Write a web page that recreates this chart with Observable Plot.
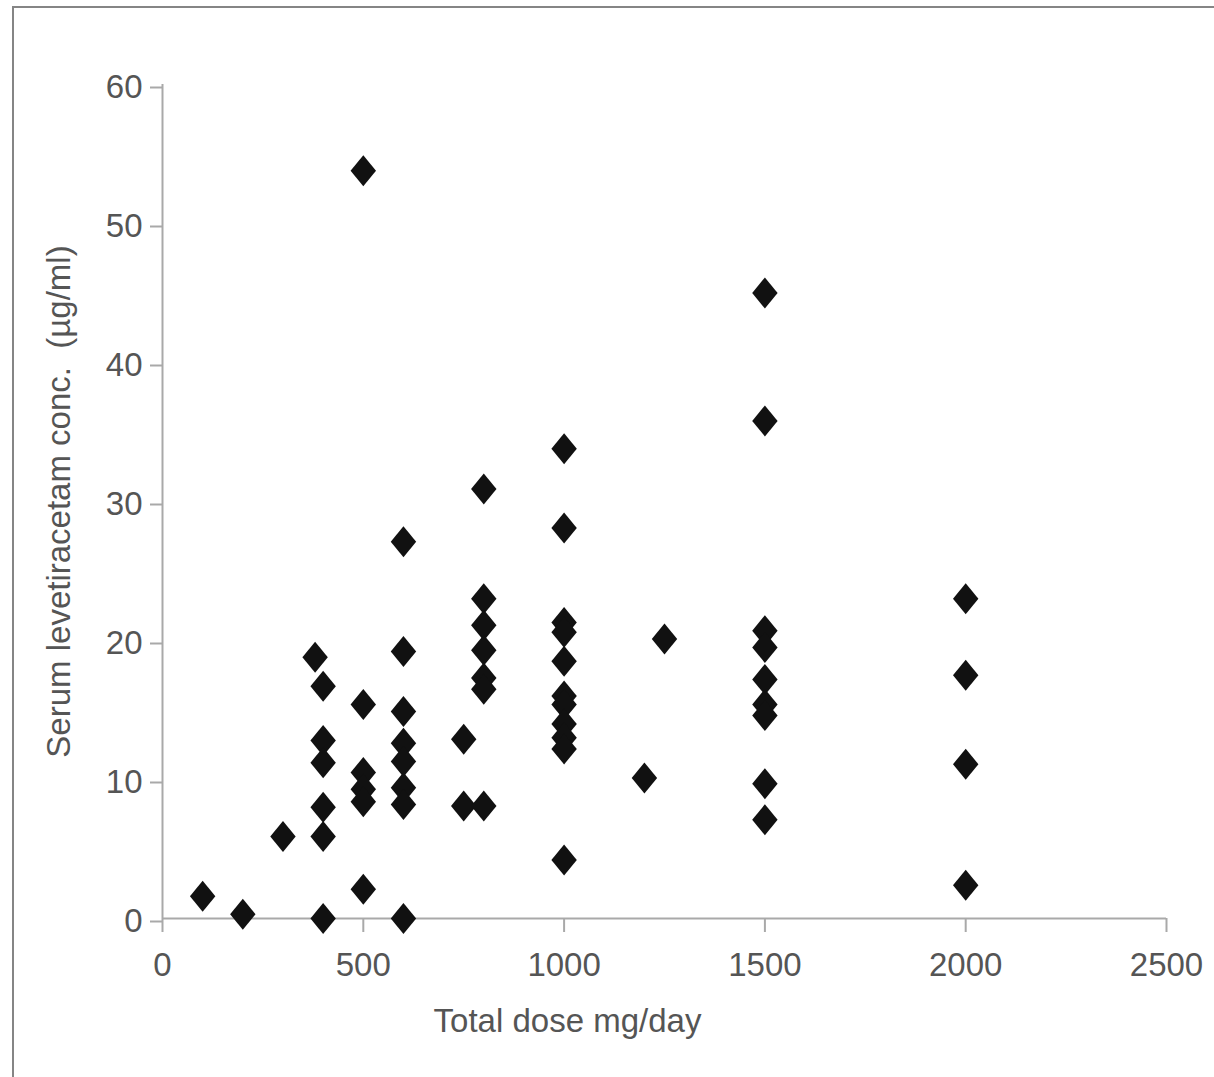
<!DOCTYPE html>
<html>
<head>
<meta charset="utf-8">
<script src="https://cdn.jsdelivr.net/npm/d3@7"></script>
<script src="https://cdn.jsdelivr.net/npm/@observablehq/plot@0.6"></script>
<style>
  html, body { margin: 0; padding: 0; background: #fff; overflow: hidden; }
  #wrap { position: relative; width: 1214px; height: 1077px; }
  #frame { position: absolute; left: 12px; top: 6px; right: 0; bottom: 0;
           border-top: 2px solid #858585; border-left: 2px solid #858585; pointer-events: none; }
  #chart { position: absolute; left: 0; top: 0; }
</style>
</head>
<body>
<div id="wrap">
  <div id="chart"></div>
  <div id="frame"></div>
</div>
<script>
// Total daily dose (mg/day) and serum levetiracetam concentration (µg/ml), one entry per patient
const dose = [
  100, 200, 300, 380,
  400, 400, 400, 400, 400, 400,
  500, 500, 500, 500, 500, 500,
  600, 600, 600, 600, 600, 600, 600, 600,
  750, 750,
  800, 800, 800, 800, 800, 800, 800,
  1000, 1000, 1000, 1000, 1000, 1000, 1000, 1000, 1000, 1000, 1000,
  1200, 1250,
  1500, 1500, 1500, 1500, 1500, 1500, 1500, 1500, 1500,
  2000, 2000, 2000, 2000
];
const conc = [
  1.6, 0.3, 5.9, 18.8,
  16.7, 12.8, 11.2, 8.0, 5.9, 0.0,
  53.8, 15.4, 10.5, 9.3, 8.4, 2.1,
  27.1, 19.2, 14.9, 12.6, 11.3, 9.4, 8.2, 0.0,
  12.9, 8.1,
  30.9, 23.0, 21.1, 19.3, 17.3, 16.5, 8.1,
  33.8, 28.1, 21.3, 20.6, 18.5, 16.0, 15.4, 14.0, 13.0, 12.2, 4.2,
  10.1, 20.1,
  45.0, 35.8, 20.7, 19.5, 17.2, 15.4, 14.6, 9.7, 7.1,
  23.0, 17.5, 11.1, 2.4
];
const xTicks = [0, 500, 1000, 1500, 2000, 2500];
const yTicks = [0, 10, 20, 30, 40, 50, 60];
const xLabel = "Total dose mg/day";
const yLabel = "Serum levetiracetam conc.  (µg/ml)";

const data = dose.map((d, i) => ({dose: d, conc: conc[i]}));

// diamond slightly taller than wide
const diamond = {
  draw(context, size) {
    const r = Math.sqrt(size / Math.PI);
    const h = r, w = r * 0.82;
    context.moveTo(0, -h);
    context.lineTo(w, 0);
    context.lineTo(0, h);
    context.lineTo(-w, 0);
    context.closePath();
  }
};

const axisColor = "#a9a9a9";
const textColor = "#555";
const font = "'Liberation Sans', Arial, Helvetica, sans-serif";

const chart = Plot.plot({
  width: 1214,
  height: 1077,
  marginLeft: 162,
  marginRight: 48,
  marginTop: 84,
  marginBottom: 159,
  style: {background: "transparent", fontFamily: font},
  x: {domain: [0, 2500]},
  y: {domain: [0, 60]},
  marks: [
    Plot.ruleY([0], {stroke: axisColor, strokeWidth: 2}),
    Plot.ruleX([0], {stroke: axisColor, strokeWidth: 2}),
    Plot.axisX({ticks: xTicks, tickFormat: d3.format("d"), tickSize: 14, tickPadding: 20, fontSize: 33,
                stroke: axisColor, strokeWidth: 2, fill: textColor, label: null}),
    Plot.axisY({ticks: yTicks, tickFormat: d3.format("d"), tickSize: 12, tickPadding: 8, fontSize: 33, dy: 3,
                stroke: axisColor, strokeWidth: 2, fill: textColor, label: null}),
    Plot.dot(data, {x: "dose", y: "conc", symbol: diamond, r: 15.5, fill: "#111", stroke: "none"}),
    Plot.text([xLabel], {frameAnchor: "bottom", dx: -97, dy: 90, lineAnchor: "top",
                         fontSize: 33, fill: textColor}),
    Plot.text([yLabel], {frameAnchor: "left", dx: -103, rotate: -90, textAnchor: "middle",
                         lineAnchor: "middle", fontSize: 33, fill: textColor})
  ]
});
document.getElementById("chart").appendChild(chart);
</script>
</body>
</html>
